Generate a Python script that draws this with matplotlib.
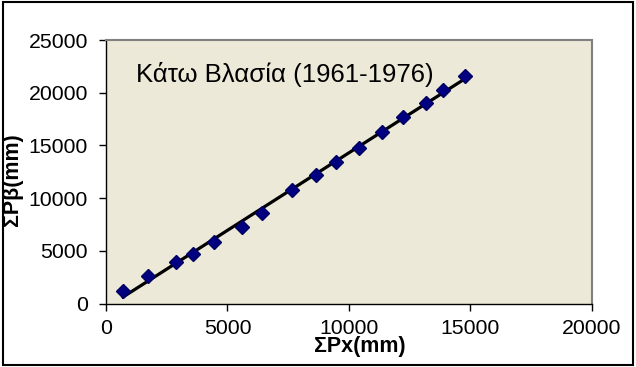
import matplotlib
matplotlib.use("Agg")
import matplotlib.pyplot as plt
from matplotlib.patches import Rectangle
import numpy as np

plt.rcParams['font.family'] = ['Liberation Sans', 'DejaVu Sans']

# cumulative rainfall, station x vs station β (mm)
sum_px = [700, 1730, 2890, 3580, 4450, 5580, 6400, 7660, 8650, 9480,
          10400, 11360, 12230, 13170, 13880, 14770]
sum_pb = [1150, 2600, 3950, 4700, 5850, 7250, 8600, 10800, 12150, 13400,
          14800, 16300, 17700, 19050, 20300, 21550]

title = "Κάτω Βλασία (1961-1976)"
x_ticks = [0, 5000, 10000, 15000, 20000]
y_ticks = [0, 5000, 10000, 15000, 20000, 25000]

fig = plt.figure(figsize=(6.36, 3.67), dpi=100)
ax = fig.add_axes([0.1667, 0.173, 0.764, 0.718])
ax.set_facecolor('#ECE9D8')

# linear trend line over the data range
k, b = np.polyfit(sum_px, sum_pb, 1)
xs = np.array([min(sum_px), max(sum_px)])
ax.plot(xs, k * xs + b, color='black', lw=2.3, zorder=2)
ax.plot(sum_px, sum_pb, 'D', color='#000080', markeredgecolor='#000060',
        markersize=7.5, zorder=3)

ax.set_xlim(0, 20000)
ax.set_ylim(0, 25000)
ax.set_xticks(x_ticks)
ax.set_yticks(y_ticks)
ax.tick_params(labelsize=15.3, length=5, width=1, direction='out')
ax.tick_params(axis='y', pad=8)
ax.tick_params(axis='x', pad=6)

for s in ['top', 'right']:
    ax.spines[s].set_color('#808080')
    ax.spines[s].set_linewidth(1.5)
for s in ['left', 'bottom']:
    ax.spines[s].set_color('black')
    ax.spines[s].set_linewidth(1)

ax.set_xlabel("ΣPx(mm)", fontsize=15.5, fontweight='bold')
ax.set_ylabel("ΣPβ(mm)", fontsize=15.5, fontweight='bold')
ax.xaxis.set_label_coords(0.523, -0.125)
ax.yaxis.set_label_coords(-0.171, 0.47)

ax.text(0.062, 0.87, title, transform=ax.transAxes, fontsize=18.5,
        ha='left', va='center')

fig.patches.append(Rectangle((0.004, 0.006), 0.991, 0.988, transform=fig.transFigure,
                             fill=False, edgecolor='black', lw=1.5))

fig.savefig("out.png", dpi=100)
